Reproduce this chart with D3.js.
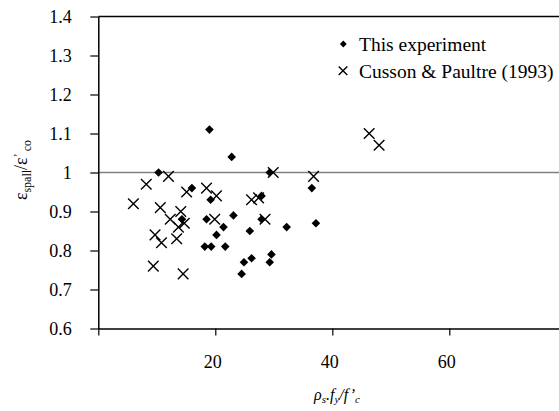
<!DOCTYPE html>
<html>
<head>
<meta charset="utf-8">
<script src="https://cdn.jsdelivr.net/npm/d3@7"></script>
<style>
  html, body { margin: 0; padding: 0; background: #fff; }
  svg { display: block; font-family: "Liberation Serif", "Times New Roman", serif; }
</style>
</head>
<body>
<div id="chart"></div>
<script>
// ---- data ----
const expX = [19.0, 22.8, 10.3, 29.3, 16.0, 36.5, 19.2, 27.9, 14.3, 23.1, 18.5, 27.9, 21.4, 25.9, 20.2, 32.2, 37.2, 18.2, 19.3, 21.7, 26.2, 24.9, 29.6, 29.3, 24.5];
const expY = [1.11, 1.04, 1.00, 1.00, 0.96, 0.96, 0.93, 0.94, 0.88, 0.89, 0.88, 0.88, 0.86, 0.85, 0.84, 0.86, 0.87, 0.81, 0.81, 0.81, 0.78, 0.77, 0.79, 0.77, 0.74];
const cusX = [12.0, 8.2, 15.1, 6.0, 10.6, 14.1, 12.3, 14.7, 13.7, 9.7, 13.4, 10.8, 9.4, 14.5, 18.5, 20.2, 19.9, 26.2, 27.4, 28.5, 29.9, 36.8, 46.3, 48.0];
const cusY = [0.99, 0.97, 0.95, 0.92, 0.91, 0.90, 0.88, 0.87, 0.86, 0.84, 0.83, 0.82, 0.76, 0.74, 0.96, 0.94, 0.88, 0.93, 0.935, 0.88, 1.00, 0.99, 1.10, 1.07];
const xTicks = [0, 20, 40, 60, 80];
const xTickLabels = [20, 40, 60];
const yTicks = [0.6, 0.7, 0.8, 0.9, 1.0, 1.1, 1.2, 1.3, 1.4];
const refLine = 1.0;
const seriesNames = ["This experiment", "Cusson & Paultre (1993)"];

(function () {
// ---- layout ----
const W = 559, H = 411;
const pLeft = 98.3, pRight = 566.3, pTop = 16.5, pBottom = 328.5;

const svg = d3.select("#chart").append("svg").attr("width", W).attr("height", H);

const x = d3.scaleLinear().domain([0, 80]).range([pLeft, pRight]);
const y = d3.scaleLinear().domain([0.6, 1.4]).range([pBottom, pTop]);

// plot border (top and right)
svg.append("line").attr("x1", pLeft).attr("x2", pRight).attr("y1", pTop).attr("y2", pTop)
  .attr("stroke", "#000").attr("stroke-width", 1.5);
svg.append("line").attr("x1", pRight).attr("x2", pRight).attr("y1", pTop).attr("y2", pBottom)
  .attr("stroke", "#000").attr("stroke-width", 1.5);

// reference line at 1
svg.append("line").attr("x1", pLeft).attr("x2", pRight)
  .attr("y1", y(refLine)).attr("y2", y(refLine))
  .attr("stroke", "#808080").attr("stroke-width", 1.5);

// axes
const yAxis = d3.axisLeft(y).tickValues(yTicks).tickSize(8).tickSizeOuter(0)
  .tickFormat(d => String(+d.toFixed(1)));
const gy = svg.append("g").attr("transform", `translate(${pLeft},0)`).call(yAxis);
gy.select(".domain").attr("stroke", "#000").attr("stroke-width", 1.5);
gy.selectAll(".tick line").attr("stroke", "#000").attr("stroke-width", 1.2);
gy.selectAll("text").attr("x", -26.5).attr("font-size", 18).attr("fill", "#000")
  .attr("font-family", "Liberation Serif");

const xAxis = d3.axisBottom(x).tickValues(xTicks).tickSize(7).tickSizeOuter(0)
  .tickFormat(d => xTickLabels.includes(d) ? String(d) : "");
const gx = svg.append("g").attr("transform", `translate(0,${pBottom})`).call(xAxis);
gx.select(".domain").attr("stroke", "#000").attr("stroke-width", 1.5);
gx.selectAll(".tick line").attr("stroke", "#000").attr("stroke-width", 1.2);
gx.selectAll("text").attr("y", 33).attr("dy", "0.35em").attr("dx", -3)
  .attr("font-size", 18).attr("fill", "#000").attr("font-family", "Liberation Serif");

// markers
const diamond = r => `M0,${-r}L${r},0L0,${r}L${-r},0Z`;
const cross = r => `M${-r},${-r}L${r},${r}M${r},${-r}L${-r},${r}`;

const expData = expX.map((v, i) => ({ x: v, y: expY[i] }));
const cusData = cusX.map((v, i) => ({ x: v, y: cusY[i] }));

svg.append("g").selectAll("path").data(cusData).join("path")
  .attr("transform", d => `translate(${x(d.x)},${y(d.y)})`)
  .attr("d", cross(5.3)).attr("fill", "none").attr("stroke", "#000").attr("stroke-width", 1.4);

svg.append("g").selectAll("path").data(expData).join("path")
  .attr("transform", d => `translate(${x(d.x)},${y(d.y)})`)
  .attr("d", diamond(4.3)).attr("fill", "#000");

// legend
const lg = svg.append("g");
lg.append("path").attr("transform", "translate(343.3,44)").attr("d", diamond(3.4)).attr("fill", "#000");
lg.append("path").attr("transform", "translate(343,70.7)").attr("d", cross(4.3))
  .attr("fill", "none").attr("stroke", "#000").attr("stroke-width", 1.4);
lg.selectAll("text").data(seriesNames).join("text")
  .attr("x", 359).attr("y", (d, i) => 44 + i * 26.7).attr("dy", "0.35em")
  .attr("font-size", 19.5).attr("fill", "#000").text(d => d);

// y-axis title: ε_spall / ε' co
const yt = svg.append("text")
  .attr("transform", "translate(27,170) rotate(-90)")
  .attr("text-anchor", "middle").attr("font-size", 18).attr("fill", "#000");
yt.append("tspan").text("ε");
yt.append("tspan").attr("font-size", 12).attr("dy", 4).text("spall");
yt.append("tspan").attr("dy", -4).text("/ε");
yt.append("tspan").attr("font-size", 12).attr("dy", -5).text("’");
yt.append("tspan").attr("font-size", 12).attr("dy", 9).text(" co");

// x-axis title: ρs.fy/f'c (italic)
const xt = svg.append("text")
  .attr("x", 337).attr("y", 400)
  .attr("text-anchor", "middle").attr("font-size", 16).attr("font-style", "italic").attr("fill", "#000");
xt.append("tspan").text("ρ");
xt.append("tspan").attr("font-size", 11).attr("dy", 3).text("s");
xt.append("tspan").attr("dy", -3).text(".f");
xt.append("tspan").attr("font-size", 11).attr("dy", 3).text("y");
xt.append("tspan").attr("dy", -3).text("/f’");
xt.append("tspan").attr("font-size", 11).attr("dy", 3).text("c");
})();
</script>
</body>
</html>
